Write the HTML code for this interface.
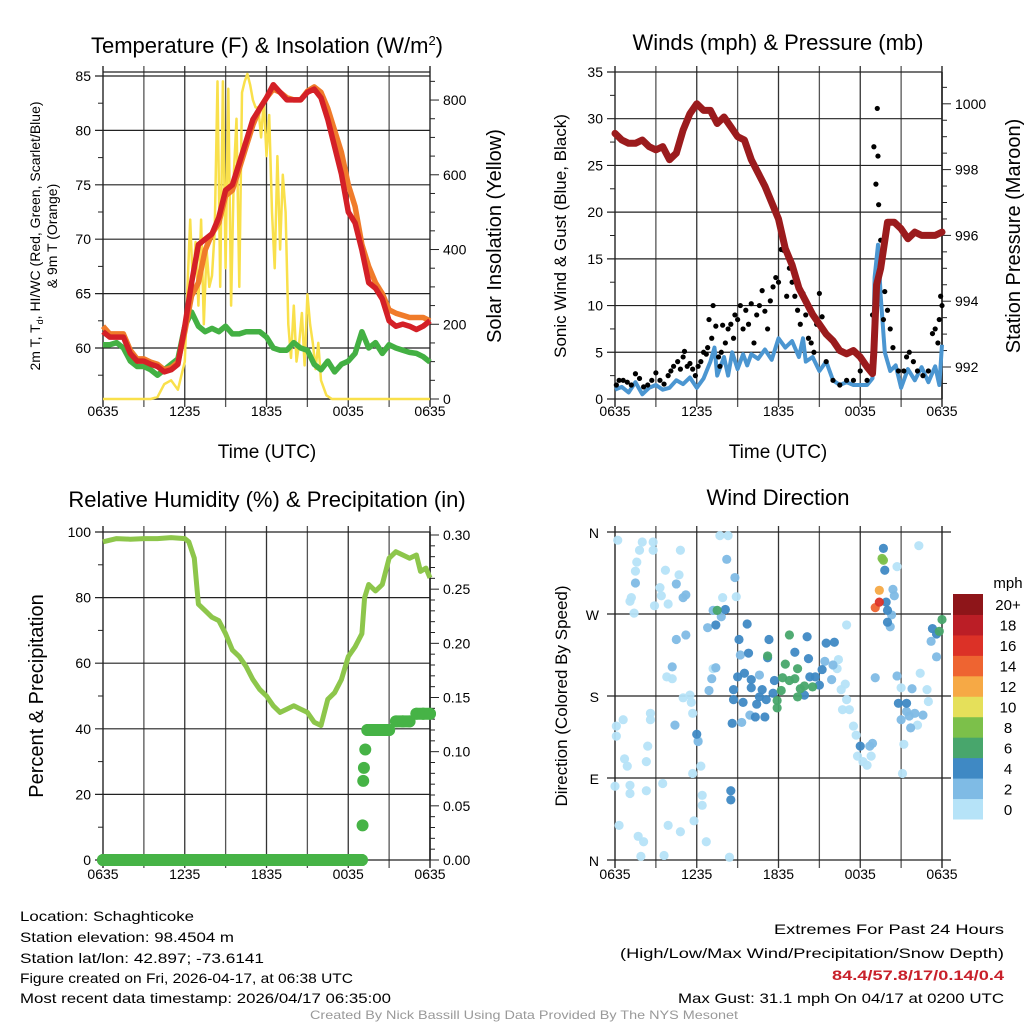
<!DOCTYPE html>
<html><head><meta charset="utf-8"><style>
html,body{margin:0;padding:0;background:#fff;}
svg{display:block;font-family:"Liberation Sans",sans-serif;}
</style></head><body>
<svg id="s" width="1024" height="1024" viewBox="0 0 1024 1024"></svg>
<script>
// ---------- DATA ----------
const tHours=[0,0.5,1,1.5,2,2.5,3,3.5,4,4.5,5,5.5,6,6.5,7,7.5,8,8.5,9,9.5,10,10.5,11,11.5,12,12.5,13,13.5,14,14.5,15,15.5,16,16.5,17,17.5,18,18.5,19,19.5,20,20.5,21,21.5,22,22.5,23,23.5,24];
const temp2m=[61.5,61,61,61,59.5,58.8,58.8,58.5,58.3,57.8,58,58.5,62,66,69.5,70,70.5,72,74.5,75,77,79,81,82,83,84.2,83.5,82.8,82.8,82.8,83.5,83.8,83,81,78.5,76,72.5,71.5,69,66,65.5,64.5,62.5,62,62.2,62,61.7,62,62.5];
const temp9m=[62,61.3,61.3,61.3,59.8,59,59,58.7,58.5,58,58.2,58.7,61.5,64.8,66,69,70.5,71.5,74,74.5,76.5,78.5,80.5,82,83,83.8,83.5,83,82.8,82.8,83.6,84,83.5,82,80,78,75,73,69.5,67.5,66,65,63.5,63.2,63,62.8,62.8,62.8,62.5];
const dewpt=[60.3,60.3,60.5,60,58.8,58.3,58.3,58,57.5,58,58.5,59,62,63.3,62,61.5,61.8,61.5,62,61.3,61.3,61.5,61.5,61.5,61,60,59.8,59.8,60.5,60,59.8,58.5,58,58.8,57.8,58.5,58.8,59.5,61.5,60,60.5,59.5,60.3,60,59.8,59.6,59.5,59.2,58.7];
const solHours=[0,3.5,4,4.5,5,5.5,6,6.2,6.4,6.6,6.8,7,7.2,7.4,7.6,7.8,8,8.2,8.4,8.6,8.8,9,9.2,9.4,9.6,9.8,10,10.2,10.4,10.6,10.8,11,11.2,11.4,11.6,11.8,12,12.2,12.4,12.6,12.8,13,13.2,13.4,13.6,13.8,14,14.2,14.4,14.6,14.8,15,15.2,15.4,15.6,15.8,16,16.4,16.8,24];
const solar=[0,0,5,40,50,25,100,300,480,300,420,250,480,200,400,300,330,450,850,300,850,350,830,250,600,750,300,820,850,870,840,800,780,780,700,800,650,760,500,350,650,400,600,500,200,110,250,100,150,230,90,280,200,150,80,150,50,10,0,0];
const windHours=[0,0.5,1,1.5,2,2.5,3,3.5,4,4.5,5,5.5,6,6.5,7,7.3,7.5,8,8.3,8.6,9,9.4,9.7,10,10.5,11,11.5,12,12.5,13,13.5,13.8,14,14.5,15,15.5,16,16.5,17,17.5,18,18.5,18.9,19.05,19.3,19.5,19.8,20.2,20.6,21,21.5,22,22.5,23,23.5,23.8,24];
const sonic=[1,1.3,0.7,1.8,0.5,1.2,1.5,1.0,1.2,2.0,1.6,2.3,1.2,2.2,4.0,5.5,2.5,4.5,2.5,5,3.2,4.8,3.6,4.8,4.3,5.3,4.2,6.5,5.5,6.2,4.5,6.5,4,4.5,3,4,2,1.5,1.8,1.5,1.5,1.5,2.2,13,16.5,11,5,3,3.6,1.2,3.2,2,3.4,1.8,3.5,1.5,5.8];
const gustHours=[0.1,0.3,0.6,0.9,1.2,1.5,1.8,2.1,2.4,2.7,3.0,3.3,3.6,3.9,4.1,4.3,4.6,4.8,5.0,5.1,5.3,5.5,5.7,5.9,6.1,6.3,6.5,6.7,6.8,6.9,7.1,7.2,7.4,7.6,7.7,7.8,7.9,8.1,8.3,8.5,8.7,8.8,9.0,9.2,9.4,9.6,9.8,10.0,10.2,10.4,10.6,10.8,11.0,11.2,11.4,11.6,11.8,12.0,12.2,12.4,12.6,12.8,13.0,13.2,13.4,13.6,13.8,14.0,14.2,14.4,14.6,14.8,15.0,15.2,15.5,16.0,16.5,17.0,17.5,18.0,18.5,18.9,19.0,19.15,19.25,19.3,19.35,19.5,19.7,19.8,20.0,20.2,20.4,20.8,21.2,21.4,21.6,21.9,22.2,22.6,23.0,23.3,23.5,23.7,23.8,23.9,24.0];
const gusts=[1.5,2,2,1.8,1.5,2.7,2.2,1.3,1.5,2,2.8,2,1.6,2.5,3,3.5,4,3.2,4.5,5.1,3.5,3.8,3.2,2.5,3.5,4,5,4.8,5.5,8.5,6.5,10,7.8,4.5,3.5,5,7.9,6,7.5,8,6.5,9,8.5,10,7.5,9.5,8,10.2,6,9,10,11.6,9.4,7.5,10.5,12,13,12.5,16,15.9,11,14,12.5,11,9.5,8,11.3,9,6.5,6,5,8,11.3,8.8,4,2,1.5,2,2,3,2,9,27,23,31.1,26,20.8,17,8.5,11.5,9.5,7.5,5.5,3,3,4.5,5,4,3,2.5,3,7,7.5,6,8.5,11,10];
const presHours=[0,0.5,1,1.5,2,2.5,3,3.5,4,4.5,5,5.5,6,6.5,7,7.5,8,8.5,9,9.5,10,10.5,11,11.5,12,12.5,13,13.5,14,14.5,15,15.5,16,16.5,17,17.5,18,18.5,18.9,19,19.2,19.5,20,20.5,21,21.5,22,22.5,23,23.5,24];
const pressure=[999.1,998.9,998.8,998.8,998.9,998.7,998.6,998.7,998.3,998.5,999.2,999.7,1000.0,999.8,999.8,999.4,999.6,999.3,999.0,998.9,998.3,997.9,997.5,997.0,996.5,995.6,995.1,994.4,994.0,993.6,993.3,993.0,992.8,992.5,992.4,992.5,992.3,992.0,991.8,992.5,994.5,995.0,996.4,996.4,996.2,995.9,996.1,996.0,996.0,996.0,996.1];
const rhHours=[0,0.5,1,2,3,4,5,6,6.3,6.7,7,7.5,8,8.5,9,9.5,10,10.5,11,11.5,12,12.5,13,13.5,14,14.5,15,15.5,16,16.5,17,17.5,18,18.5,19,19.2,19.5,20,20.5,21,21.5,22,22.5,23,23.3,23.7,24];
const rh=[97,97.5,98,97.8,98,98,98.3,98,97,92,78,76,74,73,69,64,62,59,55,52,50,47,45,46,47,46,45,42,41,49,51,55,62,65,69,80,84,82,84,92,94,93,92,93,88,89,86];
const precipHours=[0,1,2,3,4,5,6,7,8,9,10,11,12,13,14,15,16,17,18,18.6,19.0,19.05,19.1,19.15,19.25,19.4,19.6,19.8,20,20.5,21,21.5,22,22.5,23,23.5,24];
const precip=[0,0,0,0,0,0,0,0,0,0,0,0,0,0,0,0,0,0,0,0,0,0.032,0.073,0.085,0.102,0.12,0.12,0.12,0.12,0.12,0.12,0.128,0.128,0.128,0.135,0.135,0.135];
const dirHours=[0.2,2,1.8,2.8,2.8,1.6,1.5,1.2,1.1,1.4,3.7,3.3,3.4,2.9,3.9,4.7,4.8,7.7,8.3,8.9,7.9,3.8,4.2,5.5,5.6,5.7,5,2.6,2.6,0.6,0.1,0.1,0.7,0.9,2.4,2.3,0,1.1,1.1,2.3,0.3,3.5,3.9,4.8,1.7,2.1,1.9,3.6,5.8,5.7,6.3,6.1,6.4,6.4,6.7,8.4,17,16.4,16.3,16.9,16.6,17,16.7,17.2,17.5,17.7,17.8,18.2,18.5,18.8,21,21.2,21.1,20.7,22.3,22.4,22.9,23,22.2,7.2,
1.5,4.5,4.2,5,5.2,4.5,5.2,4.4,6.1,6.9,7.1,7.4,7.8,6.8,7.2,8.8,8.2,9.2,9.3,9.9,10.6,15.4,15.9,16,19.1,20.7,21.8,21.4,21.6,22,21,22.6,21.7,23.6,23.2,20.4,20.5,20.2,20.3,18.7,18.9,
7.4,8.1,9.7,9.1,9.8,11.3,11.2,10,9,9.5,8.7,8.7,9.4,10,10.8,10.6,10.4,11.1,11.6,11.7,8.6,10.3,11,13.2,14.1,14.2,14.3,13.9,14.7,15,15.2,15.5,16.1,19.7,19.8,19.9,20,20,23.3,23.6,20.8,21.4,6,8.5,8.5,18,
7.5,11.2,12.8,12.5,13.4,12.3,12.8,13.2,12.2,11.9,11.9,13.6,13.9,14.5,13.4,24,23.8,
19.6,19.7,19.4,19.1,19.4];
const dirDeg=[351,349,340,349,340,327,317,288,284,271,318,299,290,279,281,313,340,356,356,289,288,201,199,181,173,161,178,161,154,154,147,136,111,103,125,108,81,82,73,76,38,84,38,31,26,20,4,5,43,95,103,131,71,60,20,3,258,220,210,193,187,176,165,165,147,137,114,108,104,114,189,127,95,322,345,205,187,174,148,210,
304,242,212,288,291,303,247,148,130,186,199,211,267,255,274,310,330,225,151,159,203,218,198,214,200,202,188,163,158,161,154,159,145,223,240,297,290,256,269,125,128,
258,275,259,242,227,242,222,198,201,205,187,176,173,189,187,179,171,176,183,197,150,157,157,228,245,221,201,181,201,192,209,238,239,342,318,283,274,261,254,248,172,172,138,66,76,125,
274,224,247,215,210,200,197,199,186,175,167,188,191,190,179,264,251,
331,329,296,277,283];
const dirSpeed=[1,1,1,1,1,1,1,1,1,1,1,1,1,1,1,1,1,1,1,1,1,1,1,1,1,1,1,1,1,1,1,1,1,1,1,1,1,1,1,1,1,1,1,1,1,1,1,1,1,1,1,1,1,1,1,1,1,1,1,1,1,1,1,1,1,1,1,1,1,1,1,1,1,1,1,1,1,1,1,1,
3,3,3,3,3,3,3,3,3,3,3,3,3,3,3,3,3,3,3,3,3,3,3,3,3,3,3,3,3,3,3,3,3,3,3,3,3,3,3,3,3,
5,5,5,5,5,5,5,5,5,5,5,5,5,5,5,5,5,5,5,5,5,5,5,5,5,5,5,5,5,5,5,5,5,5,5,5,5,5,5,5,5,5,5,5,5,5,
7,7,7,7,7,7,7,7,7,7,7,7,7,7,7,7,7,
9,9,13,15,17];
const speedBins=["0","2","4","6","8","10","12","14","16","18","20+"];
const speedColors=["#b6e3f8","#7fbbe5","#3f89c4","#48a66c","#7cc04a","#e5e05a","#f6a945","#ee6431","#dc3127","#bb1e26","#8e1519"];
const tempTicks=[60,65,70,75,80,85];
const solarTicks=[0,200,400,600,800];
const windTicks=[0,5,10,15,20,25,30,35];
const presTicks=[992,994,996,998,1000];
const rhTicks=[0,20,40,60,80,100];
const precipTicks=[0,0.05,0.10,0.15,0.20,0.25,0.30];
const dirTicks=[0,90,180,270,360];
const dirLabels=["N","E","S","W","N"];
const timeLabels=["0635","1235","1835","0035","0635"];

// ---------- HELPERS ----------
const NS="http://www.w3.org/2000/svg";
const svg=document.getElementById('s');
function mk(tag,attrs,parent){const e=document.createElementNS(NS,tag);for(const k in attrs)e.setAttribute(k,attrs[k]);(parent||svg).appendChild(e);return e;}
function txt(str,x,y,size,anchor,parent,extra){const t=mk('text',Object.assign({x:x,y:y,'font-size':size,'text-anchor':anchor||'middle',fill:'#000'},extra||{}),parent);t.textContent=str;return t;}
function path(xs,ys,fx,fy){return xs.map((h,i)=>(i?'L':'M')+fx(h).toFixed(1)+','+fy(ys[i]).toFixed(1)).join('');}
const W=327;
function frame(g,x0,top,bot,vticks,fy,labels,rightExt){
  for(let i=0;i<=8;i++){const x=x0+i*W/8;
    mk('line',{x1:x,y1:top-6,x2:x,y2:bot+8,stroke:i%2?'#555':'#333','stroke-width':i==0||i==8?1.5:1.3},g);}
  vticks.forEach(v=>{const y=fy(v);mk('line',{x1:x0-8,y1:y,x2:x0+W+(rightExt||0),y2:y,stroke:'#222','stroke-width':1.2},g);});
}
// ---------- PANEL 1 ----------
(function(){
  const g=mk('g',{});
  
  
  const x0=103,top=72,bot=399;
  const fx=h=>x0+h/24*W, fy=v=>348-(v-60)*10.88, fs=w=>399-w*0.3737;
  frame(g,x0,top,bot,tempTicks,fy);
  mk('line',{x1:x0,y1:top,x2:x0+W,y2:top,stroke:'#222','stroke-width':1.2},g);
  mk('line',{x1:x0,y1:bot,x2:x0+W,y2:bot,stroke:'#222','stroke-width':1.5},g);
  for(let v=57.5;v<=85;v+=5)mk('line',{x1:x0-5,y1:fy(v),x2:x0,y2:fy(v),stroke:'#222'},g);
  tempTicks.forEach(v=>txt(String(v),x0-12,fy(v)+5,14,'end',g));
  for(let w=0;w<=850;w+=50){const y=fs(w);mk('line',{x1:x0+W,y1:y,x2:x0+W+(w%200?5:9),y2:y,stroke:'#222'},g);}
  solarTicks.forEach(w=>txt(String(w),x0+W+13,fs(w)+5,14,'start',g));
  timeLabels.forEach((s,i)=>txt(s,x0+i*W/4,416,14,'middle',g));
  const s1=mk('path',{d:path(solHours,solar,fx,fs),fill:'none',stroke:'#f9e04b','stroke-width':2.5,'stroke-linejoin':'round'},g);
  
  
  const gd=mk('path',{d:path(tHours,dewpt,fx,fy),fill:'none',stroke:'#43b043','stroke-width':5.5,'stroke-linejoin':'round'},g);
  
  
  const o=mk('path',{d:path(tHours,temp9m,fx,fy),fill:'none',stroke:'#f07b2a','stroke-width':5.5,'stroke-linejoin':'round'},g);
  
  
  const r=mk('path',{d:path(tHours,temp2m,fx,fy),fill:'none',stroke:'#d42027','stroke-width':5.5,'stroke-linejoin':'round'},g);
  
  
  const t=mk('text',{x:267,y:53,'font-size':22,'text-anchor':'middle'},g);
  t.innerHTML='Temperature (F) &amp; Insolation (W/m<tspan dy="-8" font-size="13">2</tspan><tspan dy="8">)</tspan>';
  
  
  txt('Time (UTC)',267,458,19,'middle',g);
  const yl=mk('text',{transform:'translate(40,236) rotate(-90)','font-size':14,'text-anchor':'middle'},g);
  yl.innerHTML='2m T, T<tspan dy="3" font-size="9">d</tspan><tspan dy="-3">, HI/WC (Red, Green, Scarlet/Blue)</tspan>';
  txt('& 9m T (Orange)',0,0,14,'middle',g,{transform:'translate(57,236) rotate(-90)'});
  txt('Solar Insolation (Yellow)',0,0,20,'middle',g,{transform:'translate(501,236) rotate(-90)'});
})();
// ---------- PANEL 2 ----------
(function(){
  const g=mk('g',{});
  
  
  const x0=615,top=72,bot=399;
  const fx=h=>x0+h/24*W, fy=v=>399-v*9.343, fp=p=>367-(p-992)*32.9;
  frame(g,x0,top,bot,windTicks,fy);
  for(let v=2.5;v<35;v+=5)mk('line',{x1:x0-5,y1:fy(v),x2:x0,y2:fy(v),stroke:'#222'},g);
  windTicks.forEach(v=>txt(String(v),x0-12,fy(v)+5,14,'end',g));
  for(let p=991.5;p<=1001;p+=0.5){const y=fp(p);if(y<top||y>bot)continue;mk('line',{x1:x0+W,y1:y,x2:x0+W+(p%2?5:9),y2:y,stroke:'#222'},g);}
  presTicks.forEach(p=>txt(String(p),x0+W+13,fp(p)+5,14,'start',g));
  mk('line',{x1:x0+W,y1:top,x2:x0+W,y2:bot,stroke:'#222','stroke-width':1.5},g);
  timeLabels.forEach((s,i)=>txt(s,x0+i*W/4,416,14,'middle',g));
  const b=mk('path',{d:path(windHours,sonic,fx,fy),fill:'none',stroke:'#4b96d1','stroke-width':4,'stroke-linejoin':'round'},g);
  
  
  gustHours.forEach((h,i)=>{const c=mk('circle',{cx:fx(h),cy:fy(gusts[i]),r:2.6,fill:'#000'},g);
    
    });
  const p=mk('path',{d:path(presHours,pressure,fx,fp),fill:'none',stroke:'#9b1b1d','stroke-width':7,'stroke-linejoin':'round','stroke-linecap':'round'},g);
  
  
  txt('Winds (mph) & Pressure (mb)',778,50,22,'middle',g);
  txt('Time (UTC)',778,458,19,'middle',g);
  txt('Sonic Wind & Gust (Blue, Black)',0,0,17,'middle',g,{transform:'translate(566,236) rotate(-90)'});
  txt('Station Pressure (Maroon)',0,0,20,'middle',g,{transform:'translate(1020,236) rotate(-90)'});
})();
// ---------- PANEL 3 ----------
(function(){
  const g=mk('g',{});
  
  
  const x0=103,top=532,bot=860;
  const fx=h=>x0+h/24*W, fy=v=>860-v*3.28, fpr=p=>860-p/0.30*325;
  frame(g,x0,top,bot,rhTicks,fy);
  for(let v=10;v<100;v+=20)mk('line',{x1:x0-5,y1:fy(v),x2:x0,y2:fy(v),stroke:'#222'},g);
  rhTicks.forEach(v=>txt(String(v),x0-12,fy(v)+5,14,'end',g));
  for(let k=0;k<=30;k++){const y=fpr(k/100);mk('line',{x1:x0+W,y1:y,x2:x0+W+(k%5?5:9),y2:y,stroke:'#222'},g);}
  precipTicks.forEach(p=>txt(p.toFixed(2),x0+W+13,fpr(p)+5,14,'start',g));
  mk('line',{x1:x0+W,y1:top,x2:x0+W,y2:bot,stroke:'#222','stroke-width':1.5},g);
  timeLabels.forEach((s,i)=>txt(s,x0+i*W/4,879,14,'middle',g));
  const l=mk('path',{d:path(rhHours,rh,fx,fy),fill:'none',stroke:'#8dc64b','stroke-width':5,'stroke-linejoin':'round'},g);
  
  
  const zb=mk('line',{x1:fx(0),y1:fpr(0),x2:fx(19),y2:fpr(0),stroke:'#46b346','stroke-width':12,'stroke-linecap':'round'},g);
  
  
  for(let i=1;i<precipHours.length;i++){const a=precipHours[i-1],b=precipHours[i];
    if(precip[i]===precip[i-1]){const sl=mk('line',{x1:fx(a),y1:fpr(precip[i]),x2:fx(b),y2:fpr(precip[i]),stroke:'#46b346','stroke-width':12,'stroke-linecap':'round'},g);
      
      }}
  precipHours.forEach((h,i)=>{const c=mk('circle',{cx:fx(h),cy:fpr(precip[i]),r:6,fill:'#46b346'},g);
    
    });
  txt('Relative Humidity (%) & Precipitation (in)',267,507,22,'middle',g);
  txt('Percent & Precipitation',0,0,20,'middle',g,{transform:'translate(43,696) rotate(-90)'});
})();
// ---------- PANEL 4 ----------
(function(){
  const g=mk('g',{});
  
  
  const x0=615,top=532,bot=860;
  const fx=h=>x0+h/24*W, fy=d=>860-d*0.9111;
  frame(g,x0,top,bot,dirTicks,fy,null,9);
  dirTicks.forEach((d,i)=>txt(dirLabels[i],x0-16,fy(d)+6,14,'end',g));
  timeLabels.forEach((s,i)=>txt(s,x0+i*W/4,879,14,'middle',g));
  dirHours.forEach((h,i)=>{let bin=Math.min(10,Math.floor(dirSpeed[i]/2));
    const c=mk('circle',{cx:fx(h),cy:fy(dirDeg[i]),r:4.6,fill:speedColors[bin],'fill-opacity':0.95},g);
    
    });
  txt('Wind Direction',778,505,22,'middle',g);
  txt('Direction (Colored By Speed)',0,0,17,'middle',g,{transform:'translate(567,696) rotate(-90)'});
  const cb=mk('g',{},g);
  
  
  const h=225/11;
  speedColors.forEach((c,i)=>{const y=594+(10-i)*h;mk('rect',{x:953,y:y,width:30,height:h+0.5,fill:c},cb);
    txt(speedBins[i],1008,y+h/2+6,15,'middle',cb);});
  txt('mph',1008,588,15,'middle',cb);
})();
// ---------- FOOTER ----------
(function(){
  const g=mk('g',{});
  
  
  const L=[["Location: Schaghticoke",921,174],["Station elevation: 98.4504 m",942,214],["Station lat/lon: 42.897; -73.6141",963,244],["Figure created on Fri, 2026-04-17, at 06:38 UTC",983,333],["Most recent data timestamp: 2026/04/17 06:35:00",1003,371]];
  L.forEach(a=>txt(a[0],20,a[1],14,'start',g,{textLength:a[2],lengthAdjust:'spacingAndGlyphs'}));
  txt("Extremes For Past 24 Hours",1004,934,14,'end',g,{textLength:230,lengthAdjust:'spacingAndGlyphs'});
  txt("(High/Low/Max Wind/Precipitation/Snow Depth)",1004,958,14,'end',g,{textLength:384,lengthAdjust:'spacingAndGlyphs'});
  txt("84.4/57.8/17/0.14/0.4",1004,980,14,'end',g,{textLength:172,lengthAdjust:'spacingAndGlyphs',fill:'#c8202a','font-weight':'bold'});
  txt("Max Gust: 31.1 mph On 04/17 at 0200 UTC",1004,1003,14,'end',g,{textLength:326,lengthAdjust:'spacingAndGlyphs'});
  txt("Created By Nick Bassill Using Data Provided By The NYS Mesonet",524,1019,12,'middle',g,{fill:'#999',textLength:428,lengthAdjust:'spacingAndGlyphs'});
})();
</script>
</body></html>
